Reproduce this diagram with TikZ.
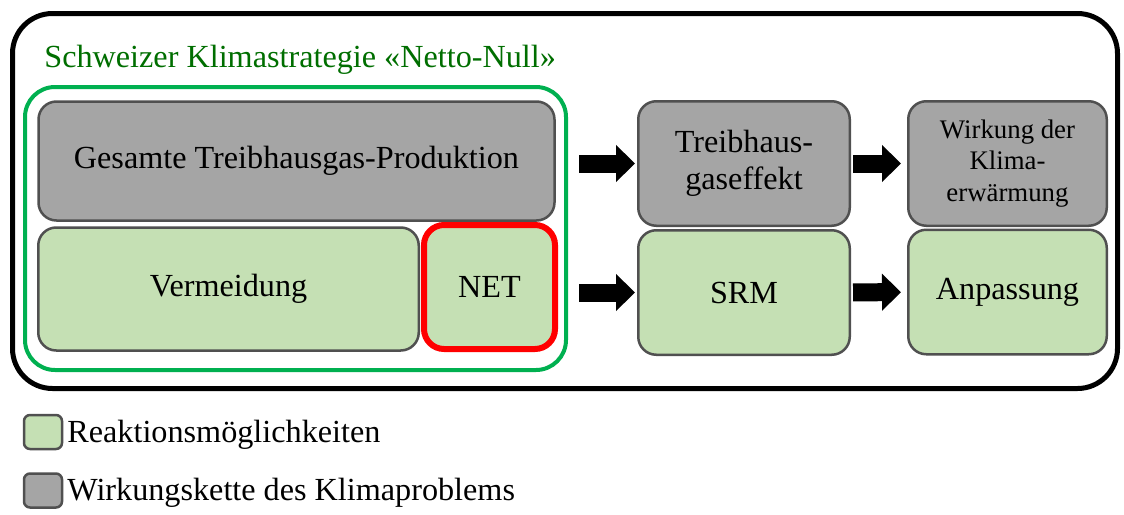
\documentclass[tikz,border=0pt]{standalone}
\usepackage{fontspec}
\setmainfont{Liberation Serif}
\usetikzlibrary{positioning,arrows.meta}
\definecolor{chaingray}{RGB}{165,165,165}
\definecolor{reactgreen}{RGB}{197,224,180}
\definecolor{edgegray}{RGB}{80,80,80}
\definecolor{stratgreen}{RGB}{0,176,80}
\definecolor{titlegreen}{RGB}{0,110,0}
\definecolor{netred}{RGB}{255,0,0}

\begin{document}
\begin{tikzpicture}[x=0.5pt,y=-0.5pt,
    every node/.style={font=\fontsize{16.1}{18.5}\selectfont},
    box/.style={draw=edgegray,line width=1.25pt,rounded corners=9pt,align=center,inner sep=0pt},
    chainbox/.style={box,fill=chaingray},
    reactbox/.style={box,fill=reactgreen},
    bigarrow/.style={line width=9pt,-{Triangle[length=9.5pt,width=18pt]}}]
  \useasboundingbox (0,0) rectangle (1124,514);
  \draw[line width=2.5pt,rounded corners=20pt] (12.5,13.5) rectangle (1117.5,388.5);
  \node[text=titlegreen,anchor=base west,inner sep=0pt] (title) at (44,67) {Schweizer Klimastrategie «Netto-Null»};
  \node[draw=stratgreen,line width=2pt,rounded corners=15pt,minimum width=270.5pt,minimum height=141.5pt] (strat) at (295.5,228.5) {};

  % Wirkungskette
  \node[chainbox,minimum width=258pt,minimum height=59.5pt] (gesamt) at (296.5,161) {Gesamte Treibhausgas-Produktion};
  \node[chainbox,minimum width=105.75pt,minimum height=62.25pt] (treib) at (744,163.5) {Treibhaus-\\gaseffekt};
  \node[chainbox,minimum width=99.25pt,minimum height=62.25pt,font=\fontsize{13.4}{15.75}\selectfont] (wirk) at (1007.5,163.5) {Wirkung der\\Klima-\\erwärmung};

  % Reaktionen
  \node[reactbox,minimum width=190.25pt,minimum height=61.5pt] (vermeid) at (228.5,289) {Vermeidung};
  \node[reactbox,draw=netred,line width=3pt,rounded corners=10pt,minimum width=65.5pt,minimum height=62pt] (net) at (489.5,287) {NET};
  \node[reactbox,minimum width=105.75pt,minimum height=62.25pt] (srm) at (744,292.5) {SRM};
  \node[reactbox,minimum width=99.25pt,minimum height=62.25pt] (anp) at (1007.5,292) {Anpassung};

  \draw[bigarrow,shorten <=5.5pt,shorten >=1pt] (strat.east |- treib.west) -- (treib.west);
  \draw[bigarrow,shorten <=5.5pt,shorten >=1pt] (strat.east |- srm.west) -- (srm.west);
  \draw[bigarrow,shorten <=1pt,shorten >=3pt] (treib) -- (wirk);
  \draw[bigarrow,shorten <=1pt,shorten >=3pt] (srm) -- (anp);

  % Legende
  \node[reactbox,rounded corners=3pt,minimum width=19pt,minimum height=17pt] (lg1) at (43,432) {};
  \node[anchor=base west,inner sep=0pt] (lt1) at (67,442) {Reaktionsmöglichkeiten};
  \node[chainbox,rounded corners=3pt,minimum width=19pt,minimum height=17pt] (lg2) at (43,490.5) {};
  \node[anchor=base west,inner sep=0pt] (lt2) at (67,500) {Wirkungskette des Klimaproblems};
\end{tikzpicture}
\end{document}
